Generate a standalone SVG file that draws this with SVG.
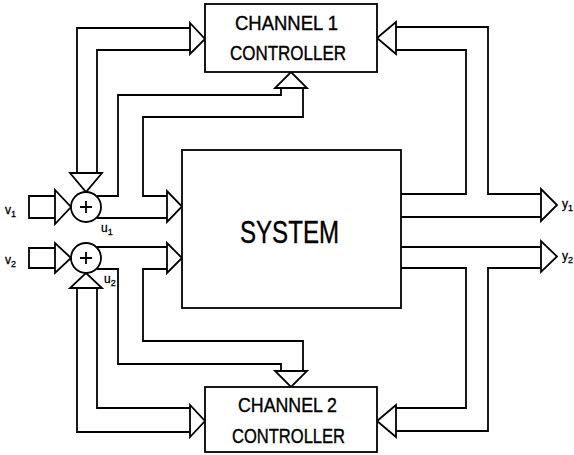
<svg xmlns="http://www.w3.org/2000/svg" width="574" height="455" viewBox="0 0 574 455">
<style>
.ln{fill:none;stroke:#000;stroke-width:1.8;stroke-linejoin:miter}
.bx{fill:#fff;stroke:#000;stroke-width:1.8}
.tri{fill:#fff;stroke:#000;stroke-width:1.8;stroke-linejoin:miter}
.big{font-family:"Liberation Sans",Arial,sans-serif;fill:#000;stroke:#000;stroke-width:0.4}
.lbl{font-family:"Liberation Sans",Arial,sans-serif;font-size:12px;fill:#000;stroke:#000;stroke-width:0.3}
</style>
<rect width="574" height="455" fill="#fff"/>
<g id="connectors">
<!-- channel 1 left feed to summer 1 -->
<path class="ln" d="M190,28 H77 V173"/>
<path class="ln" d="M190,50 H97 V173"/>
<polygon class="tri" points="190,23 190,54 205,39"/>
<polygon class="tri" points="70,173 102,173 86,192"/>
<!-- channel 2 left feed to summer 2 -->
<path class="ln" d="M97,288 V408 H190"/>
<path class="ln" d="M77,288 V432 H190"/>
<polygon class="tri" points="190,405 190,437 205,421"/>
<polygon class="tri" points="70,288 102,288 86,273"/>
<!-- v1 input -->
<path class="ln" d="M55,196 H29 V218 H55"/>
<polygon class="tri" points="55,190 55,224 71,207"/>
<!-- v2 input -->
<path class="ln" d="M55,248 H29 V268 H55"/>
<polygon class="tri" points="55,243 55,273 71,258"/>
<!-- u1 -->
<path class="ln" d="M97,196 H118 V95 H281 V88"/>
<path class="ln" d="M303,88 V117 H143 V196 H167"/>
<path class="ln" d="M97,218 H167"/>
<polygon class="tri" points="167,191 167,222 182,206.5"/>
<polygon class="tri" points="275,88 307,88 291,72"/>
<!-- u2 -->
<path class="ln" d="M97,269 H118 V364 H281 V371"/>
<path class="ln" d="M303,371 V341 H143 V269 H167"/>
<path class="ln" d="M97,247 H167"/>
<polygon class="tri" points="167,243 167,273 182,258"/>
<polygon class="tri" points="275,371 307,371 291,387"/>
<!-- y1 -->
<path class="ln" d="M401,194 H466 V50 H396"/>
<path class="ln" d="M541,194 H488 V27 H396"/>
<path class="ln" d="M401,217 H541"/>
<polygon class="tri" points="541,189 541,221 557,205"/>
<polygon class="tri" points="396,22 396,54 377,38"/>
<!-- y2 -->
<path class="ln" d="M401,247 H541"/>
<path class="ln" d="M401,268 H466 V408 H396"/>
<path class="ln" d="M541,268 H488 V431 H396"/>
<polygon class="tri" points="541,241 541,272 557,256.5"/>
<polygon class="tri" points="396,405 396,437 377,421"/>
</g>
<g id="sum1">
<circle class="bx" cx="86" cy="207" r="15"/>
<path class="ln" d="M80,207 H92 M86,201 V213"/>
</g>
<g id="sum2">
<circle class="bx" cx="86" cy="258" r="15"/>
<path class="ln" d="M80,258 H92 M86,252 V264"/>
</g>
<g id="channel1">
<rect class="bx" x="205" y="4" width="172" height="68"/>
<text class="big" x="235" y="30" font-size="21" textLength="103" lengthAdjust="spacingAndGlyphs">CHANNEL 1</text>
<text class="big" x="230" y="60" font-size="21" textLength="116" lengthAdjust="spacingAndGlyphs">CONTROLLER</text>
</g>
<g id="channel2">
<rect class="bx" x="205" y="387" width="172" height="65"/>
<text class="big" x="238" y="412" font-size="21" textLength="99" lengthAdjust="spacingAndGlyphs">CHANNEL 2</text>
<text class="big" x="232" y="443" font-size="21" textLength="113" lengthAdjust="spacingAndGlyphs">CONTROLLER</text>
</g>
<g id="system">
<rect class="bx" x="182" y="150" width="219" height="158"/>
<text class="big" x="240" y="243" font-size="31" textLength="99" lengthAdjust="spacingAndGlyphs">SYSTEM</text>
</g>
<g id="labels">
<text class="lbl" x="5" y="214">v<tspan font-size="9" dy="3">1</tspan></text>
<text class="lbl" x="5" y="264">v<tspan font-size="9" dy="3">2</tspan></text>
<text class="lbl" x="101" y="232">u<tspan font-size="9" dy="3">1</tspan></text>
<text class="lbl" x="104" y="283">u<tspan font-size="9" dy="3">2</tspan></text>
<text class="lbl" x="562" y="208">y<tspan font-size="9" dy="3">1</tspan></text>
<text class="lbl" x="562" y="260">y<tspan font-size="9" dy="3">2</tspan></text>
</g>
</svg>
